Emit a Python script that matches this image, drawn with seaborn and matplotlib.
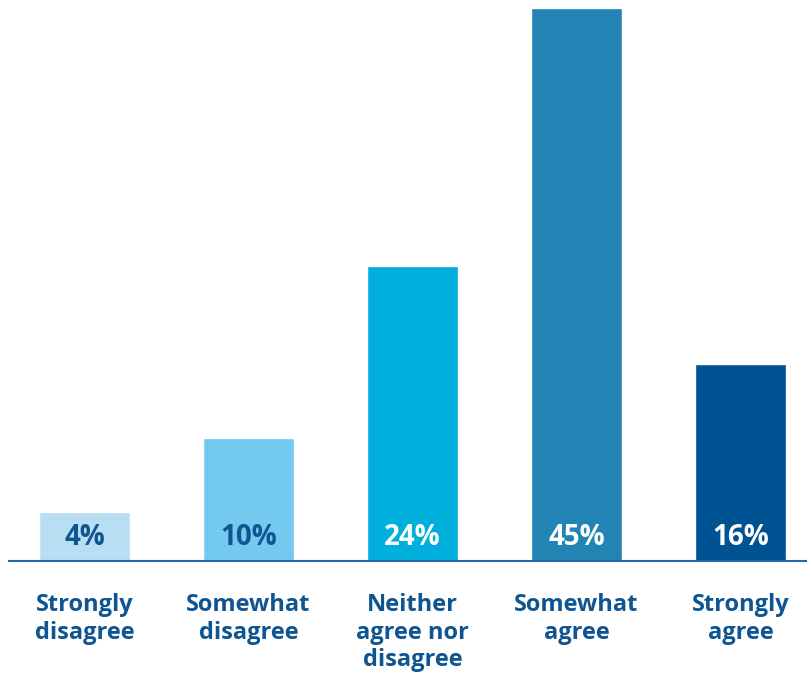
import matplotlib
matplotlib.use("Agg")
import matplotlib.pyplot as plt
import seaborn as sns
import pandas as pd

categories = ["Strongly\ndisagree", "Somewhat\ndisagree", "Neither\nagree nor\ndisagree", "Somewhat\nagree", "Strongly\nagree"]
values = [4, 10, 24, 45, 16]
value_labels = ["4%", "10%", "24%", "45%", "16%"]
bar_colors = ["#b8def4", "#74c9f1", "#00afdc", "#2284b4", "#005392"]
label_colors = ["#0f5592", "#0f5592", "white", "white", "white"]

sns.set_theme(style="white")
plt.rcParams['font.family'] = ['Open Sans', 'DejaVu Sans']

df = pd.DataFrame({"cat": categories, "val": values})

fig = plt.figure(figsize=(8.07, 6.73), dpi=100)
ax = fig.add_axes([9/807, (673-561)/673, 798/807, (561-8)/673])
sns.barplot(data=df, x="cat", y="val", hue="cat", palette=bar_colors,
            legend=False, width=0.555, saturation=1, ax=ax)

ax.set_xlim(-0.46, 4.405)
ax.set_ylim(0, 45)
for s in ["top", "right", "left"]:
    ax.spines[s].set_visible(False)
ax.spines["bottom"].set_color("#2a67a0")
ax.spines["bottom"].set_linewidth(1.5)
ax.set_yticks([])
ax.set_xlabel("")
ax.set_ylabel("")
ax.tick_params(axis="x", length=0, pad=23)
ax.set_xticks(range(len(categories)))
ax.set_xticklabels(categories, fontsize=17, fontweight="bold", color="#0f5592",
                   linespacing=1.2)

for i, (v, lab, c) in enumerate(zip(values, value_labels, label_colors)):
    ax.annotate(lab, xy=(i, 0), xytext=(0, 17), textcoords="offset points",
                ha="center", va="center", fontsize=20, fontweight="bold", color=c)

fig.savefig("out.png", dpi=100)
